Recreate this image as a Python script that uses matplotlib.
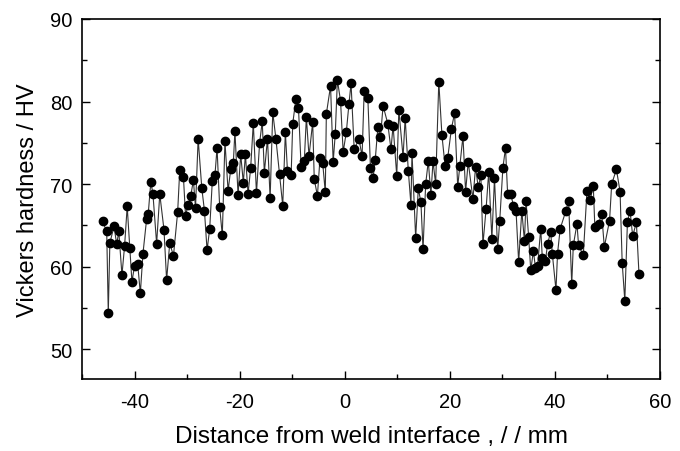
import matplotlib
matplotlib.use("Agg")
import matplotlib.pyplot as plt
from matplotlib.ticker import MultipleLocator

plt.rcParams['font.family'] = ['Liberation Sans', 'DejaVu Sans']
plt.rcParams['axes.unicode_minus'] = False

# distance from weld interface (mm) and Vickers hardness (HV)
distance = [
    -46.1, -45.3, -45.0, -44.7, -43.9, -43.4, -43.0, -42.4, -41.9, -41.4,
    -40.9, -40.5, -40.0, -39.4, -38.9, -38.4, -37.7, -37.4, -36.9, -36.5,
    -35.8, -35.2, -34.4, -33.9, -33.3, -32.6, -31.8, -31.4, -30.7, -30.3,
    -29.8, -29.3, -28.8, -28.4, -27.9, -27.2, -26.7, -26.2, -25.7, -25.2,
    -24.7, -24.3, -23.8, -23.3, -22.8, -22.2, -21.7, -21.2, -20.9, -20.3,
    -19.8, -19.3, -18.9, -18.4, -17.9, -17.4, -16.8, -16.2, -15.7, -15.3,
    -14.7, -14.2, -13.7, -13.1, -12.4, -11.8, -11.3, -10.9, -10.2, -9.9,
    -9.3, -8.8, -8.3, -7.7, -7.3, -6.8, -6.1, -5.8, -5.2, -4.7,
    -4.2, -3.7, -3.5, -2.7, -2.2, -1.8, -1.4, -0.8, -0.3, 0.3,
    0.8, 1.2, 1.8, 2.7, 3.3, 3.7, 4.4, 4.9, 5.4, 5.8,
    6.3, 6.8, 7.3, 8.2, 8.8, 9.2, 9.9, 10.3, 11.1, 11.5,
    12.1, 12.6, 12.8, 13.5, 14.0, 14.5, 14.9, 15.4, 15.9, 16.4,
    16.8, 17.3, 17.9, 18.5, 19.1, 19.6, 20.3, 20.9, 21.5, 21.9,
    22.5, 23.0, 23.5, 24.4, 24.9, 25.4, 25.9, 26.3, 26.9, 27.4,
    28.0, 28.5, 29.1, 29.5, 30.1, 30.6, 31.0, 31.6, 32.1, 32.6,
    33.1, 33.7, 34.2, 34.5, 35.0, 35.4, 35.9, 36.3, 36.7, 37.3,
    37.6, 38.2, 38.6, 39.2, 39.5, 40.2, 40.5, 41.0, 42.1, 42.6,
    43.2, 43.5, 44.2, 44.5, 45.4, 46.1, 46.7, 47.3, 47.6, 48.3,
    48.9, 49.4, 50.4, 50.8, 51.7, 52.4, 52.8, 53.3, 53.8, 54.3,
    54.8, 55.5, 56.0,
]
hardness = [
    65.5, 64.3, 54.4, 62.9, 64.9, 62.7, 64.3, 59.0, 62.5, 67.3,
    62.3, 58.2, 60.1, 60.3, 56.8, 61.6, 65.8, 66.4, 70.3, 68.8,
    62.8, 68.8, 64.5, 58.4, 62.9, 61.3, 66.6, 71.7, 70.9, 66.2,
    67.5, 68.6, 70.5, 67.1, 75.5, 69.5, 66.8, 62.0, 64.6, 70.4,
    71.1, 74.4, 67.2, 63.8, 75.2, 69.2, 71.8, 72.6, 76.4, 68.7,
    73.6, 70.2, 73.6, 68.8, 72.0, 77.4, 68.9, 75.0, 77.6, 71.4,
    75.5, 68.3, 78.7, 75.5, 71.2, 67.4, 76.3, 71.6, 71.1, 77.3,
    80.3, 79.2, 72.1, 72.8, 78.1, 73.4, 77.5, 70.6, 68.6, 73.2,
    72.6, 69.0, 78.5, 81.9, 72.7, 76.1, 82.6, 80.1, 73.9, 76.3,
    79.7, 82.2, 74.2, 75.5, 73.4, 81.3, 80.4, 71.9, 70.8, 72.9,
    76.9, 75.7, 79.5, 77.3, 74.2, 77.1, 71.0, 79.0, 73.3, 78.0,
    71.6, 67.5, 73.8, 63.5, 69.5, 67.8, 62.1, 70.0, 72.8, 68.7,
    72.8, 70.0, 82.4, 75.9, 72.2, 73.2, 76.7, 78.6, 69.7, 72.2,
    75.8, 69.1, 72.7, 68.2, 72.1, 69.6, 71.1, 62.7, 67.0, 71.5,
    63.4, 70.7, 62.1, 65.6, 72.0, 74.4, 68.8, 68.8, 67.4, 66.8,
    60.6, 66.8, 63.1, 68.0, 63.6, 59.6, 61.9, 59.9, 60.1, 64.6,
    61.1, 60.7, 62.8, 64.2, 61.6, 57.2, 61.6, 64.6, 66.8, 68.0,
    57.9, 62.6, 65.2, 62.6, 61.4, 69.2, 68.1, 69.8, 64.8, 65.2,
    66.4, 62.4, 65.6, 70.0, 71.8, 69.1, 60.5, 55.9, 65.4, 66.8,
    63.7, 65.4, 59.1,
]

fig = plt.figure(figsize=(6.8, 4.52), dpi=100)
ax = fig.add_axes([0.1206, 0.159, 0.8500, 0.7968])

ax.plot(distance, hardness, color='#333333', linewidth=0.8,
        marker='o', markersize=6.0, markerfacecolor='black',
        markeredgecolor='black', zorder=3)

ax.set_xlim(-50, 60)
ax.set_ylim(46.4, 90)
ax.xaxis.set_major_locator(MultipleLocator(20))
ax.xaxis.set_minor_locator(MultipleLocator(10))
ax.yaxis.set_major_locator(MultipleLocator(10))
ax.yaxis.set_minor_locator(MultipleLocator(5))
ax.tick_params(which='both', direction='in', top=False, right=True, width=1)
ax.tick_params(which='major', length=6, labelsize=14.5)
ax.tick_params(axis='x', which='major', pad=9)
ax.tick_params(axis='y', which='major', pad=7)
ax.tick_params(which='minor', length=3.5)
for s in ax.spines.values():
    s.set_linewidth(1.2)

ax.set_xlabel('Distance from weld interface , / / mm', fontsize=17.5, labelpad=10)
ax.set_ylabel('Vickers hardness / HV', fontsize=17, labelpad=8)

fig.savefig('out.png', dpi=100)
